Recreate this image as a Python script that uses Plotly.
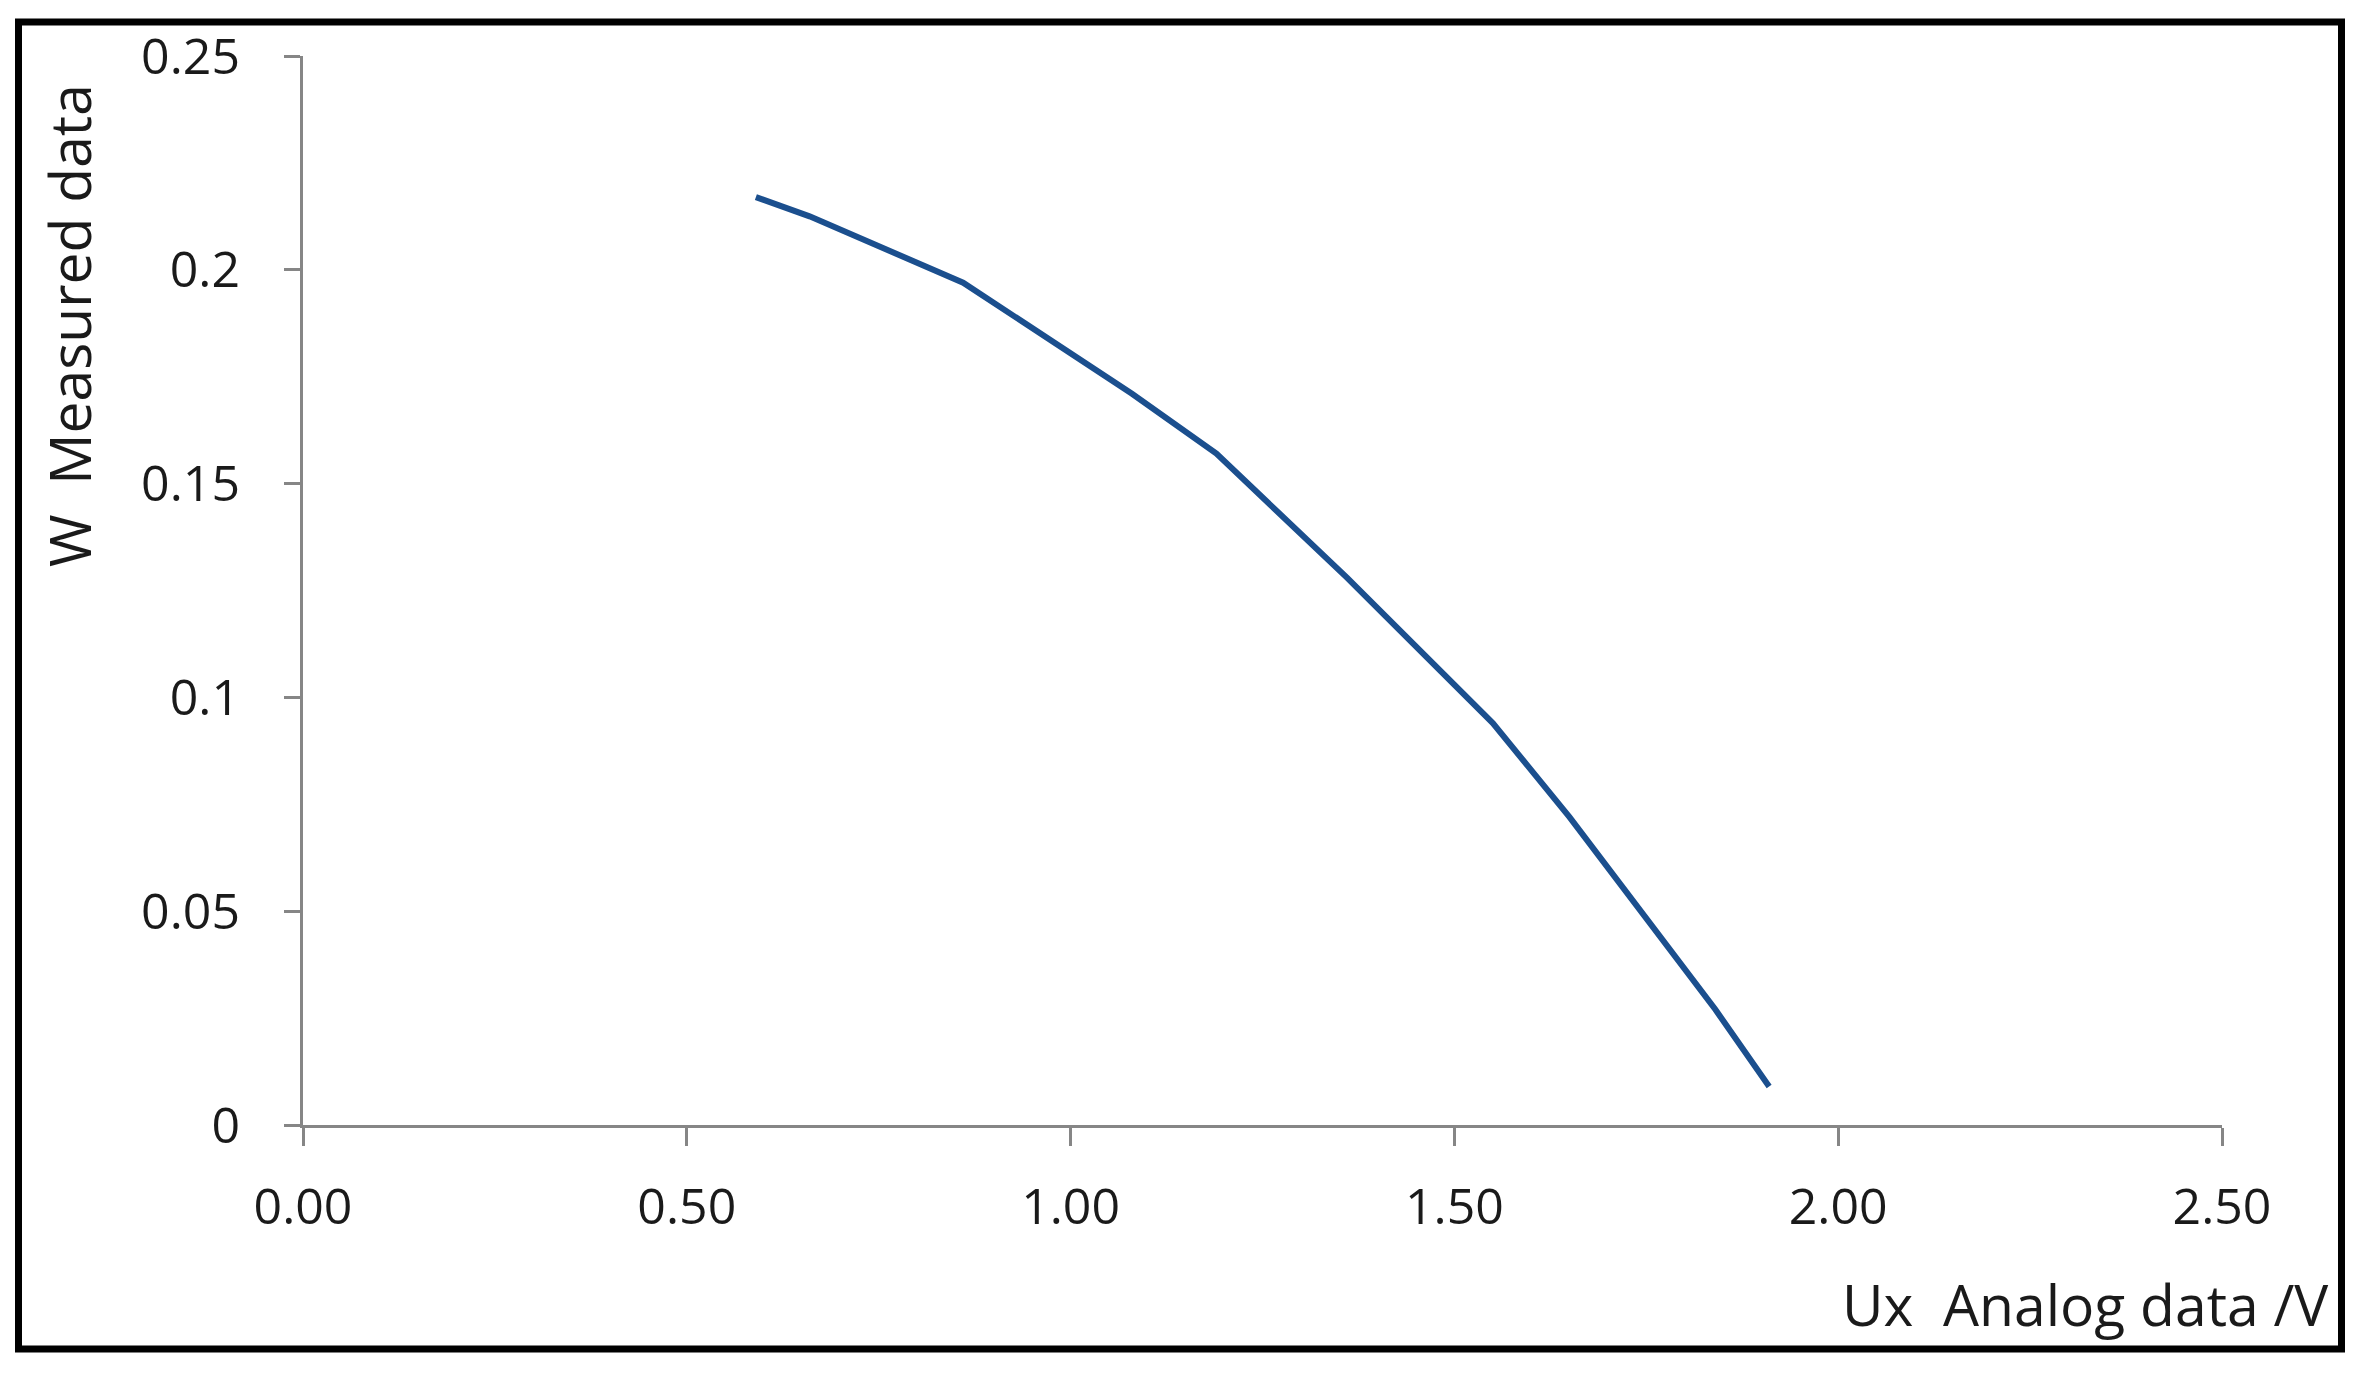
import plotly.graph_objects as go

# Data
ux_analog = [0.59, 0.66, 0.86, 1.08, 1.19, 1.36, 1.55, 1.65, 1.84, 1.91]
w_measured = [0.217, 0.2125, 0.197, 0.171, 0.157, 0.128, 0.094, 0.072, 0.027, 0.009]

x_ticks = [0, 0.5, 1.0, 1.5, 2.0, 2.5]
x_tick_labels = ["0.00", "0.50", "1.00", "1.50", "2.00", "2.50"]
y_ticks = [0, 0.05, 0.1, 0.15, 0.2, 0.25]
y_tick_labels = ["0", "0.05", "0.1", "0.15", "0.2", "0.25"]

x_title = "Ux  Analog data /V"
y_title = "W  Measured data"

# Layout geometry (pixels)
W, H = 2368, 1381
L, R, T, B = 303, 2222, 56, 1125
PW, PH = R - L, B - T


def px(xp):
    return (xp - L) / PW


def py(yp):
    return (B - yp) / PH


FONT = "Open Sans"
AXIS_COLOR = "#868686"

fig = go.Figure()
fig.add_trace(go.Scatter(
    x=ux_analog, y=w_measured, mode="lines",
    line=dict(color="#1b4f8e", width=6),
    showlegend=False, hoverinfo="skip",
))

fig.update_layout(
    width=W, height=H, autosize=False,
    margin=dict(l=L, r=W - R, t=T, b=H - B, pad=0),
    paper_bgcolor="white", plot_bgcolor="white",
    font=dict(family=FONT, color="#1a1a1a", size=50),
    xaxis=dict(
        range=[0, 2.5], tickvals=x_ticks, ticktext=x_tick_labels,
        showgrid=False, zeroline=False, showline=True,
        linecolor=AXIS_COLOR, linewidth=3,
        ticks="outside", ticklen=18, tickwidth=3, tickcolor=AXIS_COLOR,
        tickfont=dict(family=FONT, size=50, color="#1a1a1a"),
        ticklabelstandoff=18,
    ),
    yaxis=dict(
        range=[0, 0.25], tickvals=y_ticks, ticktext=y_tick_labels,
        showgrid=False, zeroline=False, showline=True,
        linecolor=AXIS_COLOR, linewidth=3,
        ticks="outside", ticklen=16, tickwidth=3, tickcolor=AXIS_COLOR,
        tickfont=dict(family=FONT, size=50, color="#1a1a1a"),
        ticklabelstandoff=34,
    ),
    shapes=[dict(
        type="rect", xref="paper", yref="paper",
        x0=px(18.5), x1=px(2341.5), y0=py(1349), y1=py(22),
        line=dict(color="black", width=7), fillcolor="rgba(0,0,0,0)",
        layer="above",
    )],
    annotations=[
        dict(text=x_title, xref="paper", yref="paper",
             x=px(2330), y=py(1304), xanchor="right", yanchor="middle",
             showarrow=False, font=dict(family=FONT, size=57, color="#1a1a1a")),
        dict(text=y_title, xref="paper", yref="paper",
             x=px(69), y=py(326), xanchor="center", yanchor="middle",
             textangle=-90, showarrow=False,
             font=dict(family=FONT, size=57, color="#1a1a1a")),
    ],
)

fig.write_html(
    "out.html",
    config={"displayModeBar": False, "staticPlot": True},
    post_script="document.body.style.margin='0';document.body.style.overflow='hidden';",
)
